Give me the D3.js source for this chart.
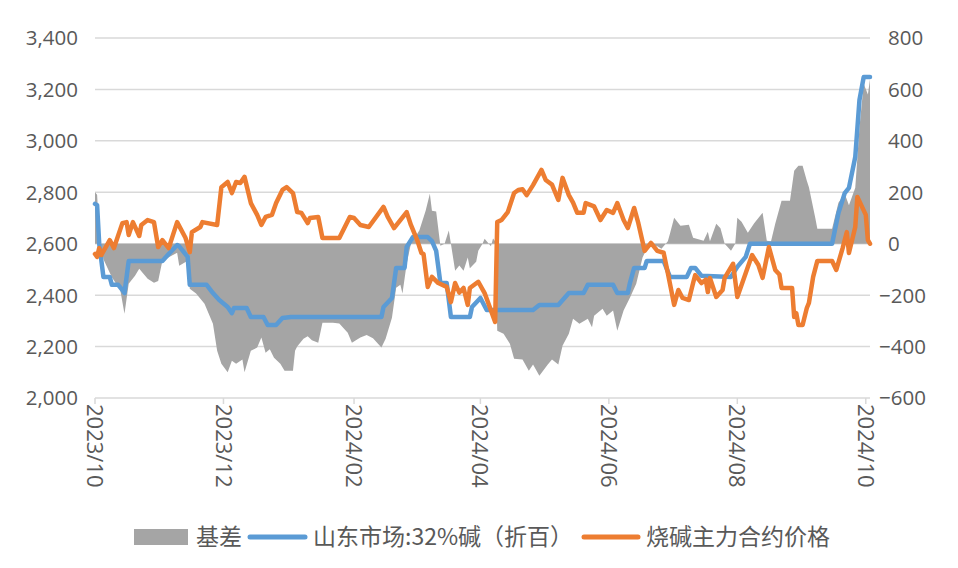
<!DOCTYPE html>
<html>
<head>
<meta charset="utf-8">
<script src="https://cdn.jsdelivr.net/npm/d3@7"></script>
<style>
  html, body { margin: 0; padding: 0; background: #fff; }
  svg { display: block; }
</style>
</head>
<body>
<svg id="chart" width="958" height="568"></svg>
<script>
// ---------------- data ----------------
const seriesNames = ["基差", "山东市场:32%碱（折百）", "烧碱主力合约价格"];
const leftTicks = [2000, 2200, 2400, 2600, 2800, 3000, 3200, 3400];
const rightTicks = [-600, -400, -200, 0, 200, 400, 600, 800];
const xTickDates = ["2023-10-01", "2023-12-01", "2024-02-01", "2024-04-01", "2024-06-01", "2024-08-01", "2024-10-01"];

const basisDates = ["2023-10-01","2023-10-02","2023-10-03","2023-10-05","2023-10-09","2023-10-13","2023-10-15","2023-10-17","2023-10-20","2023-10-22","2023-10-26","2023-10-29","2023-10-31","2023-11-02","2023-11-05","2023-11-09","2023-11-10","2023-11-14","2023-11-15","2023-11-18","2023-11-22","2023-11-26","2023-11-28","2023-11-30","2023-12-03","2023-12-05","2023-12-07","2023-12-10","2023-12-11","2023-12-14","2023-12-17","2023-12-19","2023-12-21","2023-12-23","2023-12-25","2023-12-28","2023-12-30","2024-01-03","2024-01-04","2024-01-05","2024-01-08","2024-01-10","2024-01-12","2024-01-15","2024-01-17","2024-01-22","2024-01-25","2024-01-29","2024-01-31","2024-02-04","2024-02-07","2024-02-10","2024-02-14","2024-02-16","2024-02-19","2024-02-21","2024-02-23","2024-02-24","2024-02-26","2024-02-28","2024-03-02","2024-03-03","2024-03-06","2024-03-08","2024-03-09","2024-03-11","2024-03-13","2024-03-15","2024-03-17","2024-03-18","2024-03-20","2024-03-22","2024-03-24","2024-03-26","2024-03-27","2024-03-30","2024-03-31","2024-04-02","2024-04-03","2024-04-06","2024-04-07","2024-04-08","2024-04-09","2024-04-12","2024-04-15","2024-04-17","2024-04-21","2024-04-24","2024-04-26","2024-04-29","2024-05-03","2024-05-05","2024-05-08","2024-05-10","2024-05-13","2024-05-15","2024-05-18","2024-05-22","2024-05-24","2024-05-25","2024-05-29","2024-05-31","2024-06-03","2024-06-05","2024-06-08","2024-06-11","2024-06-14","2024-06-17","2024-06-20","2024-06-24","2024-06-26","2024-06-29","2024-06-30","2024-07-02","2024-07-05","2024-07-09","2024-07-11","2024-07-16","2024-07-18","2024-07-19","2024-07-22","2024-07-24","2024-07-26","2024-07-29","2024-07-31","2024-08-01","2024-08-03","2024-08-06","2024-08-09","2024-08-13","2024-08-15","2024-08-17","2024-08-19","2024-08-22","2024-08-26","2024-08-28","2024-08-30","2024-09-01","2024-09-03","2024-09-04","2024-09-07","2024-09-08","2024-09-15","2024-09-18","2024-09-21","2024-09-23","2024-09-26","2024-09-28","2024-09-30","2024-10-02","2024-10-03"];
const basisValues = [200,190,39,-60,-130,-180,-272,-156,-125,-97,-136,-152,-145,-66,-53,-35,-86,-66,-175,-194,-233,-311,-416,-467,-500,-455,-467,-450,-500,-416,-404,-365,-424,-410,-443,-467,-494,-494,-416,-400,-370,-360,-375,-385,-307,-307,-310,-346,-385,-365,-355,-368,-404,-370,-288,-171,-160,-194,-78,0,39,51,128,194,128,125,-8,0,51,0,-105,-85,-105,-54,-95,-70,-27,0,19,-10,20,10,-338,-350,-389,-447,-450,-494,-470,-513,-470,-450,-470,-397,-350,-292,-311,-292,-325,-280,-253,-280,-260,-338,-260,-210,-156,-54,0,-10,-20,10,39,101,70,74,23,12,47,10,78,60,0,-27,0,101,85,43,80,120,12,10,78,167,167,284,303,303,245,220,101,58,58,159,194,150,218,451,622,580,640];

const spotDates = ["2023-10-01","2023-10-02","2023-10-03","2023-10-05","2023-10-08","2023-10-09","2023-10-12","2023-10-14","2023-10-15","2023-10-17","2023-11-02","2023-11-05","2023-11-09","2023-11-10","2023-11-14","2023-11-15","2023-11-23","2023-11-26","2023-11-29","2023-12-03","2023-12-05","2023-12-06","2023-12-12","2023-12-14","2023-12-20","2023-12-22","2023-12-26","2023-12-29","2024-01-02","2024-02-14","2024-02-15","2024-02-19","2024-02-20","2024-02-21","2024-02-25","2024-02-26","2024-02-29","2024-03-07","2024-03-09","2024-03-11","2024-03-13","2024-03-16","2024-03-18","2024-03-27","2024-03-28","2024-04-01","2024-04-04","2024-04-26","2024-04-29","2024-05-08","2024-05-13","2024-05-20","2024-05-22","2024-06-03","2024-06-05","2024-06-10","2024-06-11","2024-06-13","2024-06-18","2024-06-19","2024-06-27","2024-06-30","2024-07-08","2024-07-10","2024-07-12","2024-07-15","2024-07-29","2024-08-01","2024-08-05","2024-08-07","2024-09-15","2024-09-18","2024-09-21","2024-09-23","2024-09-26","2024-09-28","2024-09-30","2024-10-03"];
const spotValues = [2755,2750,2600,2471,2471,2440,2440,2420,2408,2533,2533,2560,2595,2590,2549,2440,2440,2408,2381,2354,2330,2350,2350,2315,2315,2284,2284,2311,2315,2315,2354,2389,2447,2506,2506,2587,2626,2626,2610,2572,2447,2447,2315,2315,2354,2389,2342,2342,2362,2362,2408,2408,2440,2440,2408,2408,2447,2506,2506,2533,2533,2471,2471,2506,2506,2475,2471,2510,2549,2600,2600,2719,2797,2817,2937,3159,3248,3248];

const futDates = ["2023-10-01","2023-10-02","2023-10-03","2023-10-04","2023-10-08","2023-10-10","2023-10-14","2023-10-16","2023-10-17","2023-10-19","2023-10-22","2023-10-23","2023-10-26","2023-10-29","2023-10-31","2023-11-02","2023-11-05","2023-11-09","2023-11-13","2023-11-15","2023-11-16","2023-11-20","2023-11-21","2023-11-28","2023-11-30","2023-12-03","2023-12-05","2023-12-07","2023-12-09","2023-12-11","2023-12-14","2023-12-17","2023-12-19","2023-12-21","2023-12-24","2023-12-26","2023-12-29","2023-12-31","2024-01-03","2024-01-05","2024-01-07","2024-01-10","2024-01-11","2024-01-15","2024-01-17","2024-01-25","2024-01-30","2024-02-01","2024-02-04","2024-02-08","2024-02-15","2024-02-17","2024-02-20","2024-02-26","2024-02-28","2024-03-02","2024-03-04","2024-03-05","2024-03-07","2024-03-09","2024-03-12","2024-03-16","2024-03-18","2024-03-20","2024-03-22","2024-03-24","2024-03-26","2024-03-27","2024-03-31","2024-04-03","2024-04-08","2024-04-09","2024-04-11","2024-04-14","2024-04-17","2024-04-19","2024-04-21","2024-04-23","2024-04-26","2024-04-30","2024-05-02","2024-05-05","2024-05-08","2024-05-10","2024-05-13","2024-05-15","2024-05-17","2024-05-20","2024-05-21","2024-05-25","2024-05-28","2024-05-31","2024-06-03","2024-06-05","2024-06-08","2024-06-10","2024-06-13","2024-06-15","2024-06-18","2024-06-21","2024-06-24","2024-06-27","2024-06-29","2024-07-02","2024-07-04","2024-07-06","2024-07-09","2024-07-11","2024-07-12","2024-07-15","2024-07-17","2024-07-18","2024-07-19","2024-07-22","2024-07-25","2024-07-26","2024-07-30","2024-08-01","2024-08-05","2024-08-08","2024-08-11","2024-08-13","2024-08-16","2024-08-19","2024-08-21","2024-08-22","2024-08-27","2024-08-28","2024-08-29","2024-08-30","2024-09-01","2024-09-03","2024-09-04","2024-09-06","2024-09-08","2024-09-15","2024-09-17","2024-09-20","2024-09-22","2024-09-23","2024-09-26","2024-09-27","2024-10-01","2024-10-02","2024-10-03"];
const futValues = [2560,2549,2583,2556,2614,2583,2680,2684,2634,2684,2630,2673,2692,2684,2587,2614,2583,2684,2622,2567,2645,2665,2684,2673,2820,2840,2797,2840,2836,2860,2758,2712,2673,2704,2712,2758,2809,2820,2797,2723,2720,2680,2700,2704,2622,2622,2704,2700,2673,2665,2743,2704,2661,2723,2673,2614,2564,2560,2432,2471,2447,2432,2373,2447,2410,2428,2362,2428,2452,2408,2296,2684,2692,2723,2797,2809,2812,2789,2828,2887,2848,2830,2770,2856,2789,2760,2720,2720,2758,2745,2692,2731,2720,2758,2692,2661,2739,2680,2572,2603,2572,2565,2486,2362,2420,2389,2381,2447,2478,2447,2460,2412,2467,2393,2420,2467,2522,2393,2486,2556,2517,2467,2587,2498,2480,2428,2428,2315,2330,2284,2284,2350,2370,2471,2533,2533,2498,2583,2645,2564,2665,2782,2712,2614,2600];

// ---------------- chart ----------------
const parse = d3.timeParse("%Y-%m-%d");
const svg = d3.select("#chart");
const plot = { left: 95, right: 870, top: 38, bottom: 398 };
const textColor = "#595959";
const gridColor = "#d9d9d9";
const numFont = "'Open Sans', 'Liberation Sans', sans-serif";
const cjkFont = "'Noto Sans CJK SC', 'Noto Sans', sans-serif";

const x = d3.scaleTime()
  .domain([parse("2023-10-01"), parse("2024-10-03")])
  .range([plot.left, plot.right]);
const yL = d3.scaleLinear().domain([2000, 3400]).range([plot.bottom, plot.top]);
const yR = d3.scaleLinear().domain([-600, 800]).range([plot.bottom, plot.top]);

// gridlines
svg.append("g").selectAll("line").data(leftTicks.filter(v => v !== 2000)).join("line")
  .attr("x1", plot.left).attr("x2", plot.right)
  .attr("y1", d => yL(d)).attr("y2", d => yL(d))
  .attr("stroke", gridColor).attr("stroke-width", 1.5);

// left axis labels
svg.append("g").selectAll("text").data(leftTicks).join("text")
  .attr("x", 78).attr("y", d => yL(d)).attr("dy", "0.36em")
  .attr("text-anchor", "end")
  .attr("font-family", numFont).attr("font-size", 20.5)
  .attr("fill", textColor)
  .text(d => d3.format(",")(d));

// right axis labels
svg.append("g").selectAll("text").data(rightTicks).join("text")
  .attr("x", d => d < 0 ? 879 : 888).attr("y", d => yR(d)).attr("dy", "0.36em")
  .attr("text-anchor", "start")
  .attr("font-family", numFont).attr("font-size", 20.5)
  .attr("fill", textColor)
  .text(d => d3.format("d")(d));

// basis area
const basis = basisDates.map((d, i) => ({ date: parse(d), v: basisValues[i] }));
svg.append("path").datum(basis)
  .attr("fill", "#a5a5a5")
  .attr("d", d3.area().x(d => x(d.date)).y0(yR(0)).y1(d => yR(d.v)));

// x axis
const xAxisG = svg.append("g");
xAxisG.append("line")
  .attr("x1", plot.left).attr("x2", plot.right)
  .attr("y1", plot.bottom).attr("y2", plot.bottom)
  .attr("stroke", gridColor).attr("stroke-width", 1.5);
const xt = xTickDates.map(parse);
xAxisG.selectAll("line.tick").data(xt).join("line").attr("class", "tick")
  .attr("x1", d => x(d)).attr("x2", d => x(d))
  .attr("y1", plot.bottom).attr("y2", plot.bottom + 6)
  .attr("stroke", gridColor).attr("stroke-width", 1.5);
xAxisG.selectAll("text").data(xt).join("text")
  .attr("transform", d => `translate(${x(d)},${plot.bottom + 6}) rotate(90)`)
  .attr("dy", "0.36em")
  .attr("text-anchor", "start")
  .attr("font-family", numFont).attr("font-size", 22)
  .attr("fill", textColor)
  .text(d => d3.timeFormat("%Y/%m")(d));

// lines
const spot = spotDates.map((d, i) => ({ date: parse(d), v: spotValues[i] }));
const fut = futDates.map((d, i) => ({ date: parse(d), v: futValues[i] }));
const lineL = d3.line().x(d => x(d.date)).y(d => yL(d.v));
svg.append("path").datum(spot)
  .attr("fill", "none").attr("stroke", "#5b9bd5").attr("stroke-width", 4.5)
  .attr("stroke-linejoin", "round").attr("stroke-linecap", "round")
  .attr("d", lineL);
svg.append("path").datum(fut)
  .attr("fill", "none").attr("stroke", "#ed7d31").attr("stroke-width", 4.5)
  .attr("stroke-linejoin", "round").attr("stroke-linecap", "round")
  .attr("d", lineL);

// legend
const lg = svg.append("g").attr("font-family", cjkFont).attr("font-size", 23).attr("fill", textColor);
lg.append("rect").attr("x", 134).attr("y", 529).attr("width", 54).attr("height", 16).attr("fill", "#a5a5a5");
lg.append("text").attr("x", 196).attr("y", 537).attr("dy", "0.36em").text(seriesNames[0]);
lg.append("line").attr("x1", 250).attr("x2", 305).attr("y1", 537).attr("y2", 537)
  .attr("stroke", "#5b9bd5").attr("stroke-width", 5).attr("stroke-linecap", "round");
lg.append("text").attr("x", 313).attr("y", 537).attr("dy", "0.36em").text(seriesNames[1]);
lg.append("line").attr("x1", 584).attr("x2", 638).attr("y1", 537).attr("y2", 537)
  .attr("stroke", "#ed7d31").attr("stroke-width", 5).attr("stroke-linecap", "round");
lg.append("text").attr("x", 646).attr("y", 537).attr("dy", "0.36em").text(seriesNames[2]);
</script>
</body>
</html>
